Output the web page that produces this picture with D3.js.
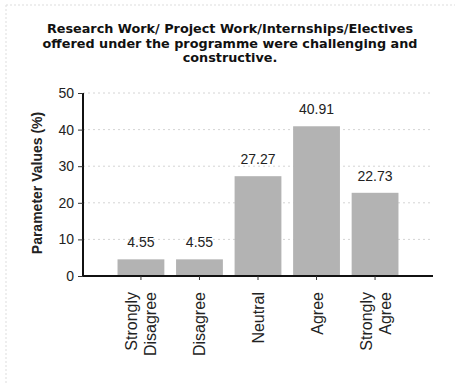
<!DOCTYPE html>
<html><head><meta charset="utf-8">
<script src="https://cdn.jsdelivr.net/npm/d3@7"></script>
<style>body{margin:0;background:#fff;}svg{display:block;}</style>
</head><body>
<script>
const categories = [["Strongly","Disagree"],["Disagree"],["Neutral"],["Agree"],["Strongly","Agree"]];
const values = [4.55, 4.55, 27.27, 40.91, 22.73];
const yTicks = [0, 10, 20, 30, 40, 50];
const titleLines = ["Research Work/ Project Work/Internships/Electives","offered under the programme were challenging and","constructive."];
const yLabel = "Parameter Values (%)";

const W = 460, H = 387;
const svg = d3.select("body").append("svg").attr("width", W).attr("height", H);

// faint frame
svg.append("line").attr("x1",6).attr("x2",455).attr("y1",5).attr("y2",5).attr("stroke","#ddd").attr("stroke-dasharray","2,2");
svg.append("line").attr("x1",6).attr("x2",6).attr("y1",5).attr("y2",385).attr("stroke","#ddd").attr("stroke-dasharray","2,2");

const x = d3.scaleBand().domain(categories.map((d,i)=>i)).range([83, 433]).paddingInner(0.2).paddingOuter(0.59);
const y = d3.scaleLinear().domain([0, 50]).range([276, 93]);

// title
svg.append("g").selectAll("text").data(titleLines).join("text")
  .attr("x", 230).attr("y", (d,i)=>33 + i*14.5)
  .attr("text-anchor","middle")
  .attr("font-family","DejaVu Sans").attr("font-weight","bold").attr("font-size","12.8px")
  .attr("fill","#111").text(d=>d);

// grid
svg.append("g").selectAll("line").data(yTicks.filter(d=>d>0)).join("line")
  .attr("x1",83).attr("x2",433).attr("y1",d=>y(d)).attr("y2",d=>y(d))
  .attr("stroke","#d4d4d4").attr("stroke-dasharray","2,3");

// bars
svg.append("g").selectAll("rect").data(values).join("rect")
  .attr("x",(d,i)=>x(i)).attr("width",x.bandwidth())
  .attr("y",d=>y(d)).attr("height",d=>y(0)-y(d))
  .attr("fill","#b3b3b3");

// value labels
svg.append("g").selectAll("text").data(values).join("text")
  .attr("x",(d,i)=>x(i)+x.bandwidth()/2).attr("y",d=>y(d)-12)
  .attr("text-anchor","middle").attr("font-family","Liberation Sans, Arial").attr("font-size","14px")
  .attr("fill","#222").text(d=>d.toFixed(2));

// y axis
const ya = svg.append("g").attr("transform","translate(83,0)")
  .call(d3.axisLeft(y).tickValues(yTicks).tickSize(5).tickPadding(4));
ya.select(".domain").attr("stroke","#111").attr("stroke-width",2).attr("d","M0,"+y(50)+"V"+y(0));
ya.selectAll(".tick line").attr("stroke","#333");
ya.selectAll("text").attr("font-family","Liberation Sans, Arial").attr("font-size","14px").attr("fill","#222");

// x axis
const xa = svg.append("g").attr("transform","translate(0,"+y(0)+")")
  .call(d3.axisBottom(x).tickSize(4).tickFormat(""));
xa.select(".domain").attr("stroke","#111").attr("stroke-width",2).attr("d","M83,0H433");
xa.selectAll(".tick line").attr("stroke","#333");

// x labels
const lab = svg.append("g").selectAll("text").data(categories).join("text")
  .attr("transform",(d,i)=>`translate(${x(i)+x.bandwidth()/2},292) rotate(-90)`)
  .attr("text-anchor","end").attr("font-family","Liberation Sans, Arial").attr("font-size","16px").attr("fill","#222");
lab.each(function(d){
  const t = d3.select(this);
  const n = d.length;
  d.forEach((s,j)=>{
    t.append("tspan").attr("x",0).attr("y", (j-(n-1)/2)*19 + 6).text(s);
  });
});

// y label
svg.append("text").attr("transform","translate(42,183) rotate(-90)")
  .attr("text-anchor","middle").attr("font-family","Liberation Sans, Arial").attr("font-weight","bold")
  .attr("font-size","14px").attr("fill","#222").text(yLabel);
</script>
</body></html>
